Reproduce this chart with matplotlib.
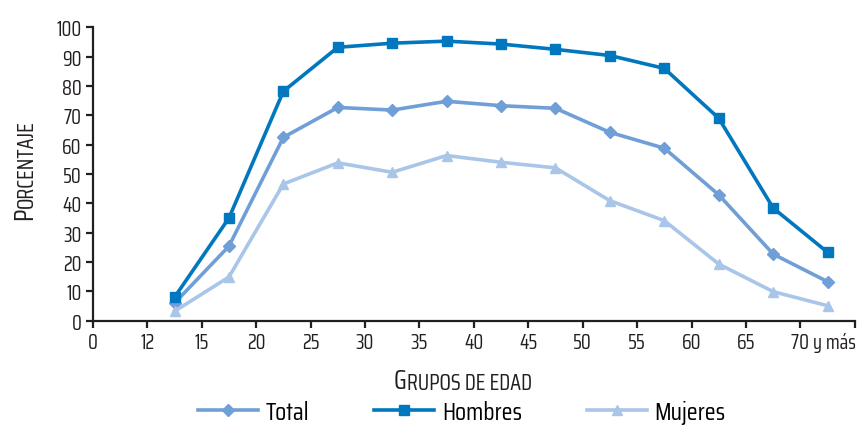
import numpy as np
import matplotlib
matplotlib.use("Agg")
import matplotlib.pyplot as plt
import matplotlib.transforms as mtransforms

# grupos de edad (13) y etiquetas del eje (14)
grupos = ["12-14", "15-19", "20-24", "25-29", "30-34", "35-39", "40-44",
          "45-49", "50-54", "55-59", "60-64", "65-69", "70 y más"]
etiquetas_x = ["0", "12", "15", "20", "25", "30", "35", "40", "45", "50",
               "55", "60", "65", "70 y más"]

total = [6.0, 25.4, 62.5, 72.7, 71.8, 74.8, 73.3, 72.4, 64.2, 58.8, 42.9, 22.7, 13.3]
hombres = [8.0, 35.0, 78.2, 93.2, 94.6, 95.3, 94.3, 92.5, 90.4, 86.0, 69.0, 38.4, 23.3]
mujeres = [3.2, 14.9, 46.6, 53.8, 50.6, 56.3, 54.0, 52.1, 40.9, 34.1, 19.3, 9.9, 5.1]

c_total = "#6f9fd6"
c_hombres = "#0077be"
c_mujeres = "#a9c5e8"
c_axis = "#231f20"

plt.rcParams["font.family"] = ["Saira Condensed", "DejaVu Sans"]

fig = plt.figure(figsize=(8.6, 4.27), dpi=100)
ax = fig.add_axes([0.108, 0.2466, 0.886, 0.687])

x = np.arange(len(grupos)) + 1.5
ax.plot(x, total, color=c_total, lw=2.6, marker="D", ms=6, label="Total")
ax.plot(x, hombres, color=c_hombres, lw=2.6, marker="s", ms=7, label="Hombres")
ax.plot(x, mujeres, color=c_mujeres, lw=2.6, marker="^", ms=7, label="Mujeres")

ax.set_xlim(0, 14)
ax.set_ylim(0, 100)
ax.set_xticks(range(15))
ax.set_xticklabels(etiquetas_x + [""])
ax.set_yticks(range(0, 101, 10))

for s in ["top", "right"]:
    ax.spines[s].set_visible(False)
for s in ["left", "bottom"]:
    ax.spines[s].set_color(c_axis)
    ax.spines[s].set_linewidth(1.6)
ax.tick_params(colors=c_axis, width=1.6, length=5, labelsize=14.5, pad=3)

# "70 y más" algo desplazado a la derecha
lbl = ax.get_xticklabels()[13]
lbl.set_ha("left")
lbl.set_transform(lbl.get_transform() + mtransforms.ScaledTranslation(-9 / 100, 0, fig.dpi_scale_trans))

# etiquetas con versalitas simuladas
t1 = fig.text(0.458, 0.089, "G", fontsize=19, color=c_axis, ha="left", va="baseline")
ax.annotate("RUPOS DE EDAD", xy=(1, 0), xycoords=t1, fontsize=16, color=c_axis,
            ha="left", va="bottom", annotation_clip=False)
t2 = fig.text(0.014, 0.485, "P", fontsize=19, color=c_axis, rotation=90, ha="left", va="bottom")
ax.annotate("ORCENTAJE", xy=(1, 1), xycoords=t2, fontsize=16, color=c_axis,
            rotation=90, ha="right", va="bottom", annotation_clip=False)

fig.legend(loc="center", bbox_to_anchor=(0.537, 0.033), ncol=3, frameon=False,
           fontsize=18, handlelength=2.4, columnspacing=2.6, handletextpad=0.3)

fig.savefig("out.png", dpi=100)
